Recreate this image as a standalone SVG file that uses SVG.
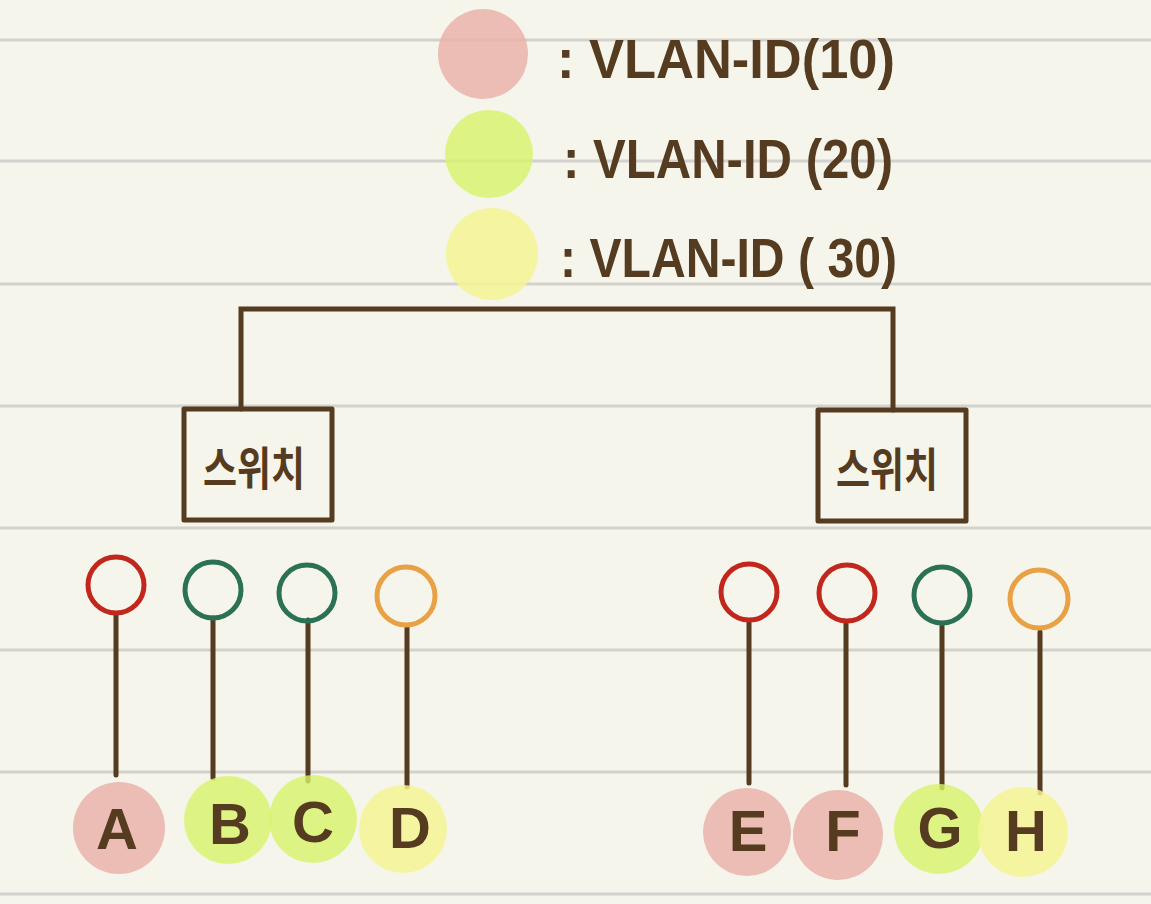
<svg xmlns="http://www.w3.org/2000/svg" width="1151" height="904" viewBox="0 0 1151 904">
<style>
.rule{stroke:#d2d1cd;stroke-width:3}
.wire{stroke:#553b20;stroke-width:5;fill:none;stroke-linecap:round}
.box{fill:none;stroke:#553b20;stroke-width:5;stroke-linejoin:round}
.port{fill:none;stroke-width:5}
.r{stroke:#c2271d}.g{stroke:#2b7154}.o{stroke:#e8a144}
.pink{fill:#eab3aa;opacity:0.85}
.lime{fill:#d7f46a;opacity:0.8}
.yel{fill:#f5f594;opacity:0.85}
.t{font-family:"Liberation Sans","Noto Sans CJK KR",sans-serif;font-weight:bold;fill:#553b20}
.leg{font-size:56px}
.lbl{font-size:58px;text-anchor:middle}
.sw{font-family:"Noto Sans CJK KR",sans-serif;font-weight:bold;fill:#553b20;font-size:46px}
</style>
<rect width="1151" height="904" fill="#f6f5eb"/>
<g id="rules">
<line class="rule" x1="0" y1="40" x2="1151" y2="40"/>
<line class="rule" x1="0" y1="161" x2="1151" y2="161"/>
<line class="rule" x1="0" y1="284" x2="1151" y2="284"/>
<line class="rule" x1="0" y1="406" x2="1151" y2="406"/>
<line class="rule" x1="0" y1="528" x2="1151" y2="528"/>
<line class="rule" x1="0" y1="650" x2="1151" y2="650"/>
<line class="rule" x1="0" y1="772" x2="1151" y2="772"/>
<line class="rule" x1="0" y1="894" x2="1151" y2="894"/>
</g>
<g id="legend-10">
<circle class="pink" cx="483" cy="54" r="45"/>
<text class="t leg" x="557" y="78" textLength="338" lengthAdjust="spacingAndGlyphs">: VLAN-ID(10)</text>
</g>
<g id="legend-20">
<circle class="lime" cx="489" cy="154" r="44"/>
<text class="t leg" x="563" y="178" textLength="330" lengthAdjust="spacingAndGlyphs">: VLAN-ID (20)</text>
</g>
<g id="legend-30">
<circle class="yel" cx="492" cy="254" r="46"/>
<text class="t leg" x="560" y="277" textLength="337" lengthAdjust="spacingAndGlyphs">: VLAN-ID ( 30)</text>
</g>
<g id="connectors">
<path class="wire" d="M241 409 V309 H893 V410"/>
<line class="wire" x1="116" y1="614" x2="116" y2="775"/>
<line class="wire" x1="213" y1="618" x2="213" y2="778"/>
<line class="wire" x1="308" y1="620" x2="308" y2="781"/>
<line class="wire" x1="407" y1="626" x2="407" y2="787"/>
<line class="wire" x1="749" y1="621" x2="749" y2="783"/>
<line class="wire" x1="846" y1="623" x2="846" y2="785"/>
<line class="wire" x1="942" y1="626" x2="942" y2="788"/>
<line class="wire" x1="1040" y1="632" x2="1040" y2="793"/>
</g>
<g id="switch-left">
<rect class="box" x="184" y="409" width="148" height="111"/>
<text class="sw" x="203" y="485" textLength="102" lengthAdjust="spacingAndGlyphs">스위치</text>
</g>
<g id="switch-right">
<rect class="box" x="818" y="410" width="148" height="111"/>
<text class="sw" x="836" y="486" textLength="102" lengthAdjust="spacingAndGlyphs">스위치</text>
</g>
<g id="port-A"><circle class="port r" cx="116" cy="585" r="28"/></g>
<g id="port-B"><circle class="port g" cx="213" cy="590" r="28"/></g>
<g id="port-C"><circle class="port g" cx="307" cy="593" r="28"/></g>
<g id="port-D"><circle class="port o" cx="406" cy="596" r="29"/></g>
<g id="port-E"><circle class="port r" cx="749" cy="592" r="28"/></g>
<g id="port-F"><circle class="port r" cx="847" cy="593" r="28"/></g>
<g id="port-G"><circle class="port g" cx="942" cy="595" r="28"/></g>
<g id="port-H"><circle class="port o" cx="1039" cy="599" r="29"/></g>
<g id="host-A"><circle class="pink" cx="119" cy="828" r="46"/><text class="t lbl" x="117" y="849">A</text></g>
<g id="host-B"><circle class="lime" cx="228" cy="820" r="44"/><text class="t lbl" x="230" y="844">B</text></g>
<g id="host-C"><circle class="lime" cx="313" cy="819" r="44"/><text class="t lbl" x="313" y="842">C</text></g>
<g id="host-D"><circle class="yel" cx="403" cy="829" r="44"/><text class="t lbl" x="410" y="848">D</text></g>
<g id="host-E"><circle class="pink" cx="747" cy="832" r="44"/><text class="t lbl" x="748" y="851">E</text></g>
<g id="host-F"><circle class="pink" cx="838" cy="835" r="45"/><text class="t lbl" x="843" y="851">F</text></g>
<g id="host-G"><circle class="lime" cx="939" cy="829" r="45"/><text class="t lbl" x="940" y="848">G</text></g>
<g id="host-H"><circle class="yel" cx="1023" cy="832" r="45"/><text class="t lbl" x="1026" y="851">H</text></g>
</svg>
